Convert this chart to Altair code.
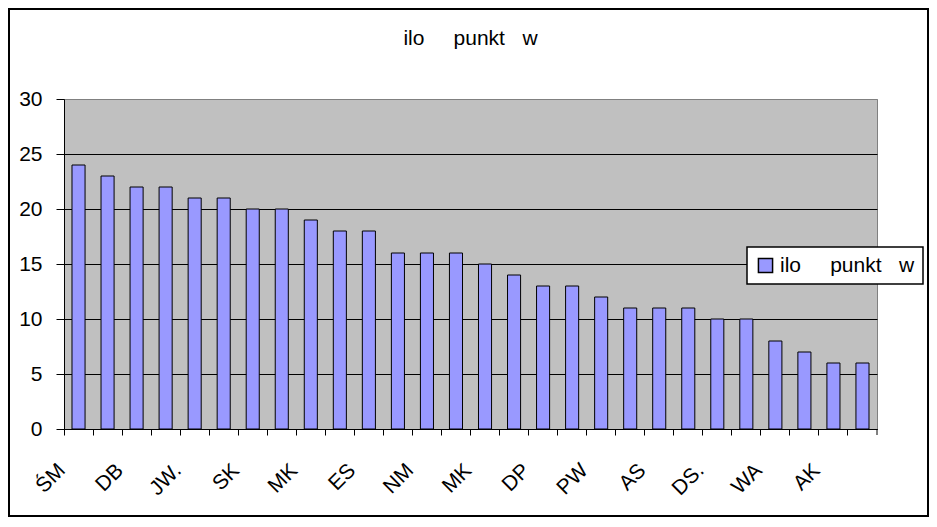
import altair as alt
import pandas as pd

values = [24, 23, 22, 22, 21, 21, 20, 20, 19, 18, 18, 16, 16, 16, 15, 14,
          13, 13, 12, 11, 11, 11, 10, 10, 8, 7, 6, 6]
shown_labels = ["ŚM", "DB", "JW.", "SK", "MK", "ES", "NM", "MK", "DP", "PW",
                "AS", "DS.", "WA", "AK"]
series_name = "ilo   punkt  w"
y_ticks = [0, 5, 10, 15, 20, 25, 30]

NB = "\u00a0"
display_name = "ilo" + NB * 5 + "punkt" + NB * 3 + "w"

labels = []
for i in range(len(values)):
    labels.append(shown_labels[i // 2] if i % 2 == 0 else "")

df = pd.DataFrame({
    "idx": list(range(len(values))),
    "value": values,
    "series": [display_name] * len(values),
})

label_expr = "[" + ",".join("'" + s + "'" for s in labels) + "][datum.value]"

FONT = "Liberation Sans"
FS = 21
W, H = 813, 330
PL, PT = 56, 91
SVG_W, SVG_H = 921, 509

bars = alt.Chart(df).mark_bar(
    width=alt.RelativeBandSize(0.45), stroke="black", strokeWidth=1
).encode(
    x=alt.X("idx:O", title=None,
            scale=alt.Scale(paddingInner=0, paddingOuter=0),
            axis=alt.Axis(labelExpr=label_expr, labelAngle=-45,
                          bandPosition=0, tickSize=6, tickColor="black",
                          domainColor="black", labelFontSize=FS,
                          labelAlign="right", labelBaseline="middle",
                          labelPadding=32, labelOffset=-16.5,
                          labelColor="black", labelFont=FONT, grid=False)),
    y=alt.Y("value:Q", title=None,
            scale=alt.Scale(domain=[0, 30], nice=False),
            axis=alt.Axis(values=y_ticks, tickSize=8, tickColor="black",
                          domainColor="black", labelFontSize=FS,
                          labelPadding=14, labelColor="black",
                          labelFont=FONT, grid=True,
                          gridColor={"condition": {"test": "datum.value === 30", "value": "#808080"},
                                     "value": "black"},
                          gridOpacity=1)),
    color=alt.Color("series:N", title=None,
                    scale=alt.Scale(range=["#9999FF"]),
                    legend=alt.Legend(orient="none", legendX=683, legendY=148,
                                      fillColor="white", strokeColor="black",
                                      padding=8, symbolType="square",
                                      symbolSize=200, symbolStrokeColor="black",
                                      symbolStrokeWidth=1.5,
                                      labelFontSize=FS, labelFont=FONT,
                                      labelColor="black", symbolOpacity=1)),
)

end_tick = alt.Chart(pd.DataFrame({"a": [0]})).mark_rule(
    color="black", strokeWidth=1
).encode(x=alt.value(W), y=alt.value(H), y2=alt.value(H + 6))

frame = alt.Chart(pd.DataFrame({"a": [0]})).mark_rect(
    fill=None, stroke="black", strokeWidth=2
).encode(
    x=alt.value(-PL + 1), x2=alt.value(SVG_W - PL - 1),
    y=alt.value(-PT + 1), y2=alt.value(SVG_H - PT - 1),
)

chart = alt.layer(bars, end_tick, frame).properties(
    width=W, height=H,
    background="white",
    title=alt.Title(display_name, fontSize=FS, font=FONT, fontWeight="normal",
                    color="black", anchor="middle", frame="group",
                    baseline="alphabetic", offset=0, dy=58),
    autosize=alt.AutoSizeParams(type="none"),
    padding={"left": PL, "top": PT, "right": SVG_W - PL - W,
             "bottom": SVG_H - PT - H},
).configure_view(
    fill="#C0C0C0", stroke="#808080", strokeWidth=1
).configure_legend(strokeWidth=1.5)

chart.save("out.html", embed_options={"renderer": "svg", "actions": False})
